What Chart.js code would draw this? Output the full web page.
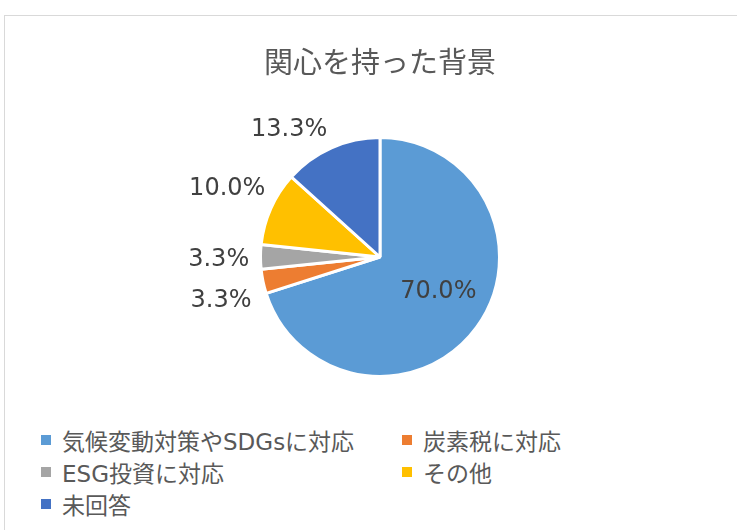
<!DOCTYPE html>
<html lang="ja">
<head>
<meta charset="utf-8">
<script src="https://cdn.jsdelivr.net/npm/chart.js@4.4.1/dist/chart.umd.min.js"></script>
<style>
  body { margin: 0; background: #fff; width: 737px; height: 530px; overflow: hidden; position: relative; }
  #frame { position: absolute; left: 4px; top: 15px; width: 740px; height: 530px; border: 1px solid #d9d9d9; box-sizing: border-box; }
  #wrap { position: absolute; left: 0; top: 0; width: 737px; height: 400px; }
  #legend { position: absolute; left: 41px; top: 424px; display: grid; grid-template-columns: 361px 300px;
            font-family: "DejaVu Sans", "Noto Sans CJK JP", sans-serif; font-size: 23px; color: #595959; }
  .item { display: flex; align-items: center; height: 32px; white-space: nowrap; }
  .box { width: 10px; height: 10px; margin-right: 11px; flex: none; }
</style>
</head>
<body>
<div id="frame"></div>
<div id="wrap"><canvas id="pieChart" width="737" height="400"></canvas></div>
<div id="legend"></div>
<script>
var categories = ['気候変動対策やSDGsに対応', '炭素税に対応', 'ESG投資に対応', 'その他', '未回答'];
var shares = [70.0, 3.3, 3.3, 10.0, 13.3];
var colors = ['#5B9BD5', '#ED7D31', '#A5A5A5', '#FFC000', '#4472C4'];

// where each percentage sits: fraction of radius, and angle nudge in degrees
var labelPlace = [
    { f: 0.57, shift: -5 },
    { f: 1.38, shift: -3.6 },
    { f: 1.35, shift: -1 },
    { f: 1.40, shift: 0 },
    { f: 1.31, shift: -11.5 }
];

var pieLabels = {
    id: 'pieLabels',
    afterDatasetsDraw: function(chart) {
        var ctx = chart.ctx;
        var arcs = chart.getDatasetMeta(0).data;
        ctx.save();
        ctx.font = '24px "DejaVu Sans", sans-serif';
        ctx.fillStyle = '#404040';
        ctx.textAlign = 'center';
        ctx.textBaseline = 'middle';
        arcs.forEach(function(arc, i) {
            var p = arc.getProps(['x', 'y', 'startAngle', 'endAngle', 'outerRadius'], true);
            var mid = (p.startAngle + p.endAngle) / 2 + labelPlace[i].shift * Math.PI / 180;
            var r = p.outerRadius * labelPlace[i].f;
            ctx.fillText(shares[i].toFixed(1) + '%', p.x + Math.cos(mid) * r, p.y + Math.sin(mid) * r);
        });
        ctx.restore();
    }
};

var ctx = document.getElementById('pieChart').getContext('2d');

var chart = new Chart(ctx, {
    type: 'pie',
    data: {
        labels: categories,
        datasets: [{
            data: shares,
            backgroundColor: colors,
            borderColor: '#ffffff',
            borderWidth: 3,
            hoverOffset: 0
        }]
    },
    options: {
        responsive: false,
        animation: false,
        layout: {
            padding: { left: 123, right: 100, top: 0, bottom: 22 }
        },
        plugins: {
            legend: { display: false },
            tooltip: { enabled: false },
            title: {
                display: true,
                text: '関心を持った背景',
                color: '#595959',
                font: { family: '"Noto Sans CJK JP", sans-serif', size: 29, weight: 'normal' },
                padding: { top: 44.6, bottom: 56.6 }
            }
        }
    },
    plugins: [pieLabels]
});

// legend in two columns like the original
var legend = document.getElementById('legend');
categories.forEach(function(name, i) {
    var item = document.createElement('div');
    item.className = 'item';
    var box = document.createElement('span');
    box.className = 'box';
    box.style.background = colors[i];
    item.appendChild(box);
    item.appendChild(document.createTextNode(name));
    legend.appendChild(item);
});
</script>
</body>
</html>
